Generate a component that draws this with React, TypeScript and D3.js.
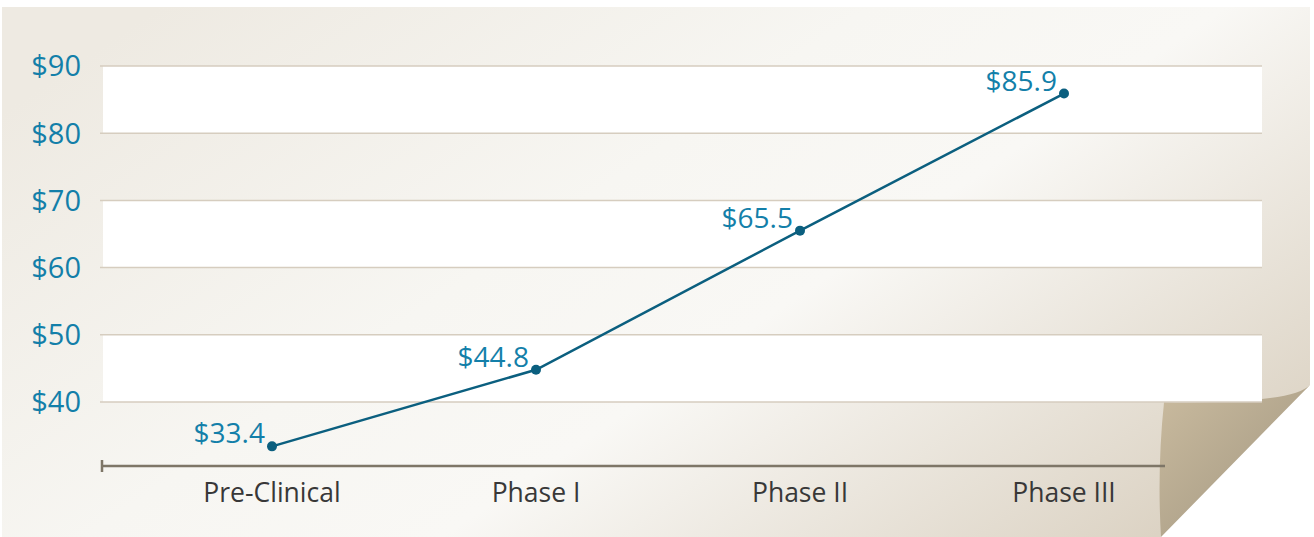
import React, { useEffect, useRef } from 'react';
import * as d3 from 'd3';

const categories = ['Pre-Clinical', 'Phase I', 'Phase II', 'Phase III'];
const costs = [33.4, 44.8, 65.5, 85.9];
const yTicks = [40, 50, 60, 70, 80, 90];

const App = () => {
  const svgRef = useRef<SVGSVGElement>(null);

  useEffect(() => {
    const w = 1314;
    const h = 537;
    const font = "'Open Sans', 'Noto Sans', sans-serif";
    const blue = '#137fa9';
    const lineColor = '#0b5f7f';

    const svg = d3.select(svgRef.current).attr('width', w).attr('height', h);
    svg.selectAll('*').remove();

    const defs = svg.append('defs');
    const pageGrad = defs.append('linearGradient')
      .attr('id', 'page').attr('x1', 0).attr('y1', 0.2).attr('x2', 1).attr('y2', 0.8);
    [['0', '#eeeae2'], ['0.4', '#f7f6f2'], ['0.6', '#f9f8f5'], ['1', '#dcd3c4']].forEach(([o, c]) =>
      pageGrad.append('stop').attr('offset', o).attr('stop-color', c));
    const flapGrad = defs.append('linearGradient')
      .attr('id', 'flap').attr('x1', 0).attr('y1', 0).attr('x2', 1).attr('y2', 1);
    [['0', '#cabb9f'], ['0.5', '#b5a88f'], ['1', '#958b78']].forEach(([o, c]) =>
      flapGrad.append('stop').attr('offset', o).attr('stop-color', c));

    // paper with the curled corner
    svg.append('path')
      .attr('d', 'M2,7 H1310 V385 Q1298,399 1262,402 H1164 L1161,537 H2 Z')
      .attr('fill', 'url(#page)');
    svg.append('path')
      .attr('d', 'M1164,402 Q1292,404 1310,385 L1161,537 Q1157,470 1164,402 Z')
      .attr('fill', 'url(#flap)');

    const x = d3.scalePoint<string>().domain(categories).range([272, 1064]);
    const y = d3.scaleLinear().domain([40, 90]).range([402, 66]);

    // white bands
    svg.append('g').selectAll('rect')
      .data([80, 60, 40])
      .join('rect')
      .attr('x', 103)
      .attr('width', 1262 - 103)
      .attr('y', d => y(d + 10))
      .attr('height', d => y(d) - y(d + 10))
      .attr('fill', '#ffffff');

    // grid lines
    svg.append('g').selectAll('line')
      .data(yTicks)
      .join('line')
      .attr('x1', 100).attr('x2', 1262)
      .attr('y1', d => y(d)).attr('y2', d => y(d))
      .attr('stroke', '#d6cdbf').attr('stroke-width', 1.5);

    // y labels
    svg.append('g').selectAll('text')
      .data(yTicks)
      .join('text')
      .attr('x', 81)
      .attr('y', d => y(d))
      .attr('dy', '0.36em')
      .attr('text-anchor', 'end')
      .style('font-family', font)
      .style('font-size', '29px')
      .style('fill', blue)
      .text(d => `$${d}`);

    // x axis
    svg.append('line')
      .attr('x1', 101).attr('x2', 1165).attr('y1', 466).attr('y2', 466)
      .attr('stroke', '#7e7667').attr('stroke-width', 2.5);
    svg.append('line')
      .attr('x1', 102).attr('x2', 102).attr('y1', 460).attr('y2', 472)
      .attr('stroke', '#7e7667').attr('stroke-width', 2.5);

    svg.append('g').selectAll('text')
      .data(categories)
      .join('text')
      .attr('x', d => x(d)!)
      .attr('y', 502)
      .attr('text-anchor', 'middle')
      .style('font-family', font)
      .style('font-size', '26.5px')
      .style('fill', '#383838')
      .text(d => d);

    const line = d3.line<number>()
      .x((_, i) => x(categories[i])!)
      .y(d => y(d));

    svg.append('path')
      .datum(costs)
      .attr('d', line)
      .attr('fill', 'none')
      .attr('stroke', lineColor)
      .attr('stroke-width', 2.5);

    svg.append('g').selectAll('circle')
      .data(costs)
      .join('circle')
      .attr('cx', (_, i) => x(categories[i])!)
      .attr('cy', d => y(d))
      .attr('r', 5)
      .attr('fill', lineColor);

    svg.append('g').selectAll('text')
      .data(costs)
      .join('text')
      .attr('x', (_, i) => x(categories[i])! - 7)
      .attr('y', d => y(d) - 3)
      .attr('text-anchor', 'end')
      .style('font-family', font)
      .style('font-size', '28px')
      .style('fill', blue)
      .text(d => `$${d.toFixed(1)}`);
  }, []);

  return (
    <svg ref={svgRef} style={{ position: 'absolute', left: 0, top: 0 }}></svg>
  );
};

export default App;
